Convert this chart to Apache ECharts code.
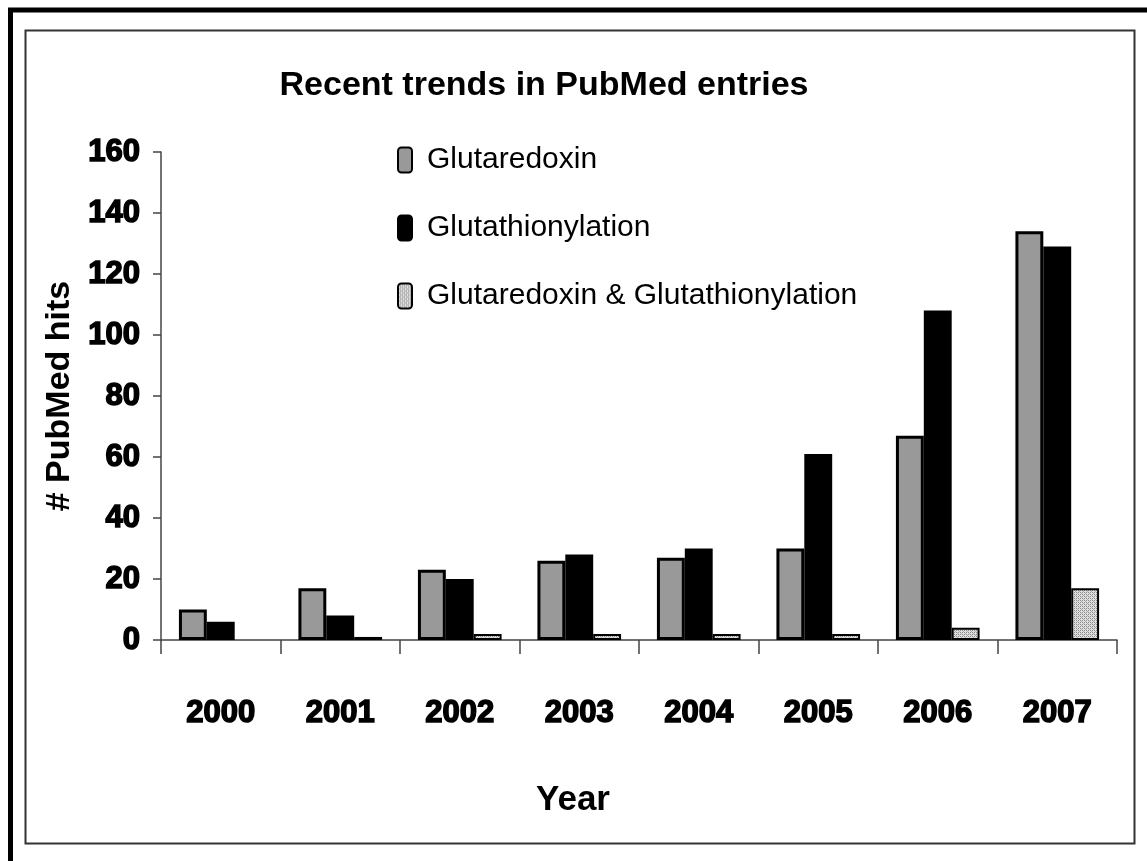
<!DOCTYPE html>
<html>
<head>
<meta charset="utf-8">
<title>Recent trends in PubMed entries</title>
<script src="https://cdn.jsdelivr.net/npm/echarts@6/dist/echarts.min.js"></script>
<style>
  html, body { margin: 0; padding: 0; background: #fff; }
  #chart { width: 1147px; height: 861px; }
</style>
</head>
<body>
<div id="chart"></div>
<script>
// Yearly PubMed hit counts
const years = ['2000', '2001', '2002', '2003', '2004', '2005', '2006', '2007'];
const glutaredoxin = [10, 17, 23, 26, 27, 30, 67, 134];
const glutathionylation = [6, 8, 20, 28, 30, 61, 108, 129];
const bothTerms = [0, 1, 2, 2, 2, 2, 4, 17];
const seriesNames = ['Glutaredoxin', 'Glutathionylation', 'Glutaredoxin & Glutathionylation'];
const yTicks = [0, 20, 40, 60, 80, 100, 120, 140, 160];

// Dotted hatch fill for the combined-term series
function hatchPattern() {
  const c = document.createElement('canvas');
  c.width = 4; c.height = 4;
  const g = c.getContext('2d');
  g.fillStyle = '#e0e0e0';
  g.fillRect(0, 0, 4, 4);
  g.fillStyle = '#8a8a8a';
  g.fillRect(0, 0, 1, 1);
  g.fillRect(2, 2, 1, 1);
  g.fillRect(2, 0, 1, 1);
  g.fillRect(0, 2, 1, 1);
  g.fillStyle = '#b0b0b0';
  g.fillRect(1, 1, 1, 1);
  g.fillRect(3, 3, 1, 1);
  return c;
}

// Zero counts draw no bar at all
const noZero = arr => arr.map(v => (v === 0 ? '-' : v));

const sans = "'Liberation Sans', Arial, sans-serif";

const chart = echarts.init(document.getElementById('chart'), null, { renderer: 'canvas' });

chart.setOption({
  animation: false,
  backgroundColor: '#fff',
  graphic: [
    {
      type: 'rect', silent: true, z: -1,
      shape: { x: 10.5, y: 10, width: 1300, height: 1000 },
      style: { fill: 'none', stroke: '#000', lineWidth: 5 }
    },
    {
      type: 'rect', silent: true, z: -1,
      shape: { x: 25.5, y: 30.5, width: 1109, height: 813 },
      style: { fill: 'none', stroke: '#333', lineWidth: 2 }
    }
  ],
  title: [
    {
      text: 'Recent trends in PubMed entries',
      left: 539, top: 64, textAlign: 'center',
      textStyle: { fontFamily: sans, fontWeight: 'bold', fontSize: 34, color: '#000' }
    },
    {
      text: 'Year',
      left: 568, top: 778, textAlign: 'center',
      textStyle: { fontFamily: sans, fontWeight: 'bold', fontSize: 35, color: '#000' }
    }
  ],
  legend: {
    orient: 'vertical',
    left: 392, top: 140,
    itemWidth: 14, itemHeight: 25,
    itemGap: 38,
    data: seriesNames,
    textStyle: { fontFamily: sans, fontSize: 30, color: '#000', padding: [0, 0, 0, 10] }
  },
  grid: { left: 161, right: 30, top: 152, bottom: 221, containLabel: false },
  xAxis: {
    type: 'category',
    data: years,
    axisLine: { lineStyle: { color: '#444', width: 1.5 } },
    axisTick: { show: true, inside: false, length: 14, lineStyle: { color: '#444', width: 1.5 } },
    axisLabel: {
      interval: 0,
      margin: 58,
      fontFamily: sans, fontWeight: 'bold', fontSize: 31, color: '#000',
      textBorderColor: '#000', textBorderWidth: 1.5
    }
  },
  yAxis: {
    type: 'value',
    min: 0, max: 160, interval: 20,
    name: '# PubMed hits',
    nameLocation: 'middle',
    nameRotate: 90,
    nameGap: 84,
    nameMoveOverlap: false,
    nameTextStyle: { fontFamily: sans, fontWeight: 'bold', fontSize: 34, color: '#000' },
    splitLine: { show: false },
    axisLine: { show: true, lineStyle: { color: '#444', width: 1.5 } },
    axisTick: { show: true, length: 8, lineStyle: { color: '#444', width: 1.5 } },
    axisLabel: {
      margin: 21,
      fontFamily: sans, fontWeight: 'bold', fontSize: 31, color: '#000',
      textBorderColor: '#000', textBorderWidth: 1.5,
      formatter: function (v) { return yTicks.indexOf(v) >= 0 ? String(v) : ''; }
    }
  },
  series: [
    {
      name: seriesNames[0], type: 'bar', data: glutaredoxin,
      barGap: '0%', barCategoryGap: '30%',
      itemStyle: { color: '#999999', borderColor: '#000', borderWidth: 3 }
    },
    {
      name: seriesNames[1], type: 'bar', data: glutathionylation,
      itemStyle: { color: '#000000', borderColor: '#000', borderWidth: 3 }
    },
    {
      name: seriesNames[2], type: 'bar', data: noZero(bothTerms),
      itemStyle: { color: { image: hatchPattern(), repeat: 'repeat' }, borderColor: '#000', borderWidth: 2 }
    }
  ]
});
</script>
</body>
</html>
